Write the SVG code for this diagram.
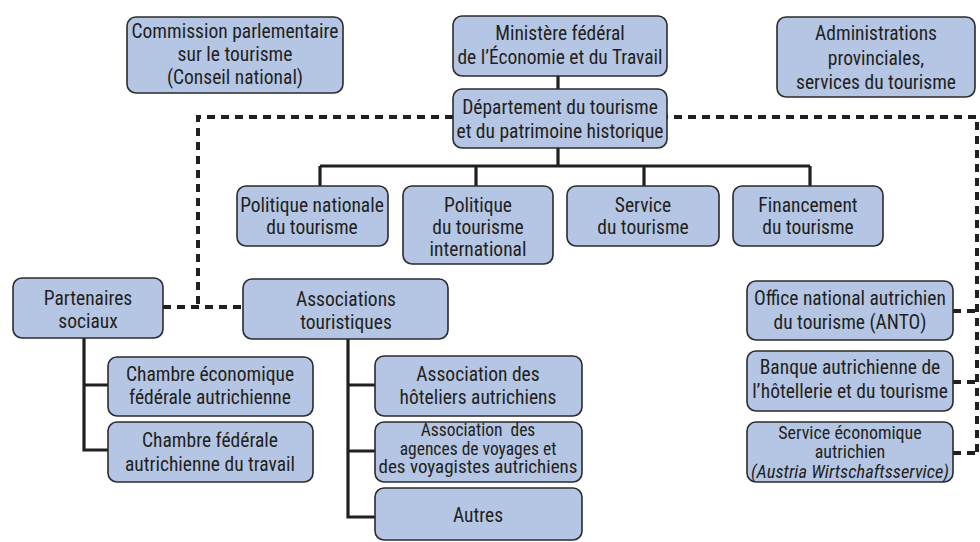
<svg xmlns="http://www.w3.org/2000/svg" width="980" height="542" viewBox="0 0 980 542">
<style>
.box{fill:#b4c6e4;stroke:#2b2b2b;stroke-width:1.6}
text{font-family:"Liberation Sans Narrow","Roboto Condensed","DejaVu Sans Condensed","Liberation Sans",sans-serif;font-stretch:condensed;font-size:19.5px;fill:#231f20;text-anchor:middle}
.sm{font-size:17.5px}
.md{font-size:18px}
.it{font-style:italic}
.solid{fill:none;stroke:#231f20;stroke-width:3.2}
.dash{fill:none;stroke:#231f20;stroke-width:4;stroke-dasharray:8 6}
</style>
<rect width="980" height="542" fill="#ffffff"/>
<g id="connectors">
<path class="solid" d="M558 76V89M558 148V166M320 166H810M320 166V186M476 166V186M644 166V186M810 166V186"/>
<path class="solid" d="M84 338V450H108M84 385H108"/>
<path class="solid" d="M348 339V517H375M348 385H375M348 451H375"/>
<path class="dash" d="M453 117H198V307"/>
<path class="dash" d="M163 307H243"/>
<path class="dash" d="M660 117H977V453"/>
<path class="dash" d="M953 311H977M953 382H977M953 453H977"/>
</g>
<g id="commission"><rect class="box" x="127" y="17" width="216" height="76" rx="9"/><text x="235" y="38">Commission parlementaire</text><text x="235" y="61">sur le tourisme</text><text x="235" y="84">(Conseil national)</text></g>
<g id="ministere"><rect class="box" x="453" y="16" width="214" height="60" rx="9"/><text x="560" y="40">Ministère fédéral</text><text x="560" y="64">de l’Économie et du Travail</text></g>
<g id="administrations"><rect class="box" x="777" y="17" width="198" height="80" rx="9"/><text x="876" y="40">Administrations</text><text x="876" y="65">provinciales,</text><text x="876" y="89">services du tourisme</text></g>
<g id="departement"><rect class="box" x="453" y="89" width="214" height="59" rx="9"/><text x="560" y="114">Département du tourisme</text><text x="560" y="138">et du patrimoine historique</text></g>
<g id="pol-nat"><rect class="box" x="237" y="186" width="151" height="60" rx="9"/><text x="312" y="212">Politique nationale</text><text x="312" y="234">du tourisme</text></g>
<g id="pol-int"><rect class="box" x="403" y="186" width="150" height="78" rx="9"/><text x="478" y="212">Politique</text><text x="478" y="234">du tourisme</text><text x="478" y="256">international</text></g>
<g id="service-tourisme"><rect class="box" x="567" y="186" width="152" height="60" rx="9"/><text x="643" y="212">Service</text><text x="643" y="234">du tourisme</text></g>
<g id="financement"><rect class="box" x="733" y="186" width="150" height="60" rx="9"/><text x="808" y="212">Financement</text><text x="808" y="234">du tourisme</text></g>
<g id="partenaires"><rect class="box" x="13" y="278" width="150" height="60" rx="9"/><text x="88" y="305">Partenaires</text><text x="88" y="328">sociaux</text></g>
<g id="associations"><rect class="box" x="243" y="279" width="205" height="60" rx="9"/><text x="346" y="306">Associations</text><text x="346" y="329">touristiques</text></g>
<g id="chambre-eco"><rect class="box" x="108" y="357" width="205" height="59" rx="9"/><text x="210" y="381">Chambre économique</text><text x="210" y="404">fédérale autrichienne</text></g>
<g id="chambre-travail"><rect class="box" x="108" y="422" width="205" height="60" rx="9"/><text x="210" y="447">Chambre fédérale</text><text x="210" y="471">autrichienne du travail</text></g>
<g id="hoteliers"><rect class="box" x="375" y="356" width="207" height="60" rx="9"/><text x="478" y="381">Association des</text><text x="478" y="404">hôteliers autrichiens</text></g>
<g id="agences"><rect class="box" x="375" y="422" width="207" height="60" rx="9"/><text class="sm" x="478" y="436" xml:space="preserve">Association  des</text><text class="sm" x="478" y="454.5">agences de voyages et</text><text class="sm" x="478" y="473" textLength="199" lengthAdjust="spacingAndGlyphs">des voyagistes autrichiens</text></g>
<g id="autres"><rect class="box" x="375" y="488" width="207" height="52" rx="9"/><text x="478" y="522">Autres</text></g>
<g id="anto"><rect class="box" x="747" y="281" width="206" height="59" rx="9"/><text x="850" y="305">Office national autrichien</text><text x="850" y="329">du tourisme (ANTO)</text></g>
<g id="banque"><rect class="box" x="747" y="351" width="206" height="60" rx="9"/><text x="850" y="374">Banque autrichienne de</text><text x="850" y="398">l’hôtellerie et du tourisme</text></g>
<g id="aws"><rect class="box" x="747" y="422" width="206" height="60" rx="9"/><text class="md" x="850" y="438.5">Service économique</text><text class="md" x="850" y="458">autrichien</text><text x="850" y="477.5" class="md it" textLength="198" lengthAdjust="spacingAndGlyphs">(Austria Wirtschaftsservice)</text></g>
</svg>
